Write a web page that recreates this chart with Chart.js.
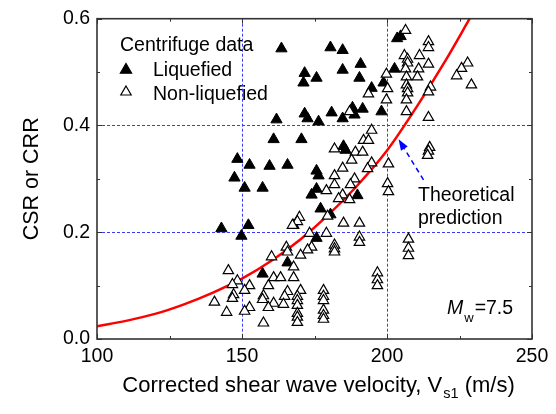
<!DOCTYPE html>
<html>
<head>
<meta charset="utf-8">
<script src="https://cdn.jsdelivr.net/npm/chart.js@4.4.1/dist/chart.umd.min.js"></script>
<style>
  html, body { margin: 0; padding: 0; background: #fff; }
  #wrap { width: 556px; height: 414px; }
</style>
</head>
<body>
<div id="wrap"><canvas id="vsChart" width="556" height="414"></canvas></div>
<script>
// Centrifuge data - liquefied (filled triangles)
const liqVs = [163.6, 180.5, 184.7, 190.9, 184.7, 171.6, 175.7, 171.2, 190.5, 194.7, 202.6, 198.8, 204.7, 203.5,
    171.6, 172.6, 161.9, 176.4, 180.9, 184.7, 188.1, 188.8, 191.6, 198.1, 160.9, 170.5, 185.0, 185.7,
    148.4, 152.6, 159.5, 165.7, 175.7, 176.4, 147.4, 150.9, 157.1, 174.0, 175.7, 189.8, 177.1, 180.5,
    142.9, 152.2, 149.8, 167.8, 175.7, 165.7, 157.1];
const liqCsr = [0.544, 0.546, 0.541, 0.515, 0.504, 0.498, 0.489, 0.480, 0.489, 0.470, 0.506, 0.480, 0.567, 0.563,
    0.422, 0.413, 0.411, 0.407, 0.424, 0.413, 0.433, 0.420, 0.431, 0.426, 0.374, 0.374, 0.361, 0.354,
    0.337, 0.326, 0.324, 0.326, 0.315, 0.306, 0.302, 0.283, 0.283, 0.270, 0.281, 0.269, 0.244, 0.233,
    0.207, 0.213, 0.193, 0.213, 0.189, 0.143, 0.122];

// Centrifuge data - non-liquefied (open triangles)
const nonVs = [206.4, 214.3, 214.3, 206.0, 207.1, 207.1, 211.2, 206.4, 210.9, 214.3, 210.5, 206.7, 206.7, 207.1,
    207.1, 206.7, 215.0, 214.3, 206.7, 214.3, 227.8, 225.7, 224.0, 229.1, 214.7, 214.3, 214.0, 199.8,
    200.2, 199.8, 193.6, 187.1, 194.7, 191.9, 193.6, 181.9, 189.1, 191.6, 187.8, 194.7, 184.7, 193.3,
    200.5, 181.9, 188.8, 187.4, 181.9, 179.1, 184.7, 183.3, 187.1, 200.2, 200.5, 169.8, 169.1, 167.4,
    179.5, 185.0, 190.5, 173.3, 179.1, 190.5, 190.5, 174.0, 172.6, 181.9, 181.9, 181.9, 165.3, 165.7,
    160.2, 170.2, 167.8, 160.9, 163.3, 167.8, 152.6, 159.1, 150.9, 165.7, 170.2, 157.4, 157.1, 164.7,
    169.1, 169.1, 169.1, 178.1, 178.1, 178.1, 160.9, 164.3, 159.1, 152.6, 150.9, 169.1, 169.1, 169.1,
    178.1, 178.1, 178.1, 157.4, 196.7, 196.7, 196.7, 145.3, 148.4, 146.7, 147.1, 146.7, 140.5, 144.7,
    207.4, 207.4, 207.4];
const nonCsr = [0.578, 0.557, 0.546, 0.531, 0.524, 0.517, 0.531, 0.506, 0.506, 0.515, 0.491, 0.491, 0.476, 0.469,
    0.461, 0.448, 0.472, 0.463, 0.426, 0.415, 0.517, 0.507, 0.493, 0.476, 0.359, 0.352, 0.344, 0.496,
    0.469, 0.448, 0.459, 0.426, 0.391, 0.372, 0.372, 0.356, 0.350, 0.350, 0.335, 0.330, 0.320, 0.319,
    0.328, 0.306, 0.300, 0.289, 0.289, 0.278, 0.270, 0.263, 0.261, 0.291, 0.276, 0.228, 0.220, 0.213,
    0.230, 0.217, 0.217, 0.198, 0.198, 0.191, 0.181, 0.172, 0.167, 0.176, 0.169, 0.163, 0.172, 0.163,
    0.154, 0.157, 0.135, 0.115, 0.115, 0.115, 0.100, 0.100, 0.091, 0.089, 0.091, 0.081, 0.074, 0.080,
    0.080, 0.072, 0.063, 0.091, 0.080, 0.072, 0.067, 0.065, 0.059, 0.059, 0.052, 0.048, 0.041, 0.031,
    0.054, 0.044, 0.037, 0.030, 0.124, 0.111, 0.100, 0.128, 0.109, 0.102, 0.083, 0.076, 0.069, 0.050,
    0.187, 0.170, 0.156];

// Theoretical prediction (red curve)
const curveVs = [100, 110, 120, 130, 140, 150, 160, 170, 180, 190, 200, 210, 220, 228.5];
const curveCrr = [0.024, 0.034, 0.047, 0.065, 0.087, 0.113, 0.146, 0.186, 0.234, 0.289, 0.353, 0.433, 0.52, 0.6];

// axes
const xTicks = [100, 150, 200, 250];
const yTicks = [0.0, 0.2, 0.4, 0.6];
const guideVs = [150, 200];
const guideCsr = [0.2, 0.4];

const FONT = 'Arial, "Liberation Sans", sans-serif';

function toPoints(xs, ys) {
    return xs.map((v, i) => ({ x: v, y: ys[i] }));
}

function tri(ctx, cx, cy, r, filled) {
    ctx.beginPath();
    ctx.moveTo(cx, cy - r);
    ctx.lineTo(cx + r * Math.sin(2 * Math.PI / 3), cy + r / 2);
    ctx.lineTo(cx - r * Math.sin(2 * Math.PI / 3), cy + r / 2);
    ctx.closePath();
    ctx.fillStyle = filled ? '#000' : '#fff';
    ctx.fill();
    ctx.strokeStyle = '#000';
    ctx.lineWidth = 1.2;
    ctx.stroke();
}

const framePlugin = {
    id: 'frame',
    beforeDatasetsDraw(chart) {
        const { ctx, chartArea: a, scales: { x, y } } = chart;
        ctx.save();
        ctx.strokeStyle = '#3a3aff';
        ctx.lineWidth = 1;
        ctx.setLineDash([3, 2]);
        guideVs.forEach(v => {
            const px = Math.round(x.getPixelForValue(v)) + 0.5;
            ctx.beginPath(); ctx.moveTo(px, a.top); ctx.lineTo(px, a.bottom); ctx.stroke();
        });
        guideCsr.forEach(v => {
            const py = Math.round(y.getPixelForValue(v)) + 0.5;
            ctx.beginPath(); ctx.moveTo(a.left, py); ctx.lineTo(a.right, py); ctx.stroke();
        });
        ctx.restore();
    },
    afterDatasetsDraw(chart) {
        const { ctx, chartArea: a, scales: { x, y } } = chart;
        ctx.save();

        // frame + inward ticks
        ctx.strokeStyle = '#333';
        ctx.lineWidth = 1.6;
        ctx.strokeRect(a.left, a.top, a.right - a.left, a.bottom - a.top);
        ctx.lineWidth = 1;
        for (let v = 100; v <= 250; v += 25) {
            const px = Math.round(x.getPixelForValue(v)) + 0.5;
            const len = v % 50 === 0 ? 5 : 3;
            ctx.beginPath();
            ctx.moveTo(px, a.bottom); ctx.lineTo(px, a.bottom - len);
            ctx.moveTo(px, a.top); ctx.lineTo(px, a.top + len);
            ctx.stroke();
        }
        for (let i = 0; i <= 6; i++) {
            const py = Math.round(y.getPixelForValue(i / 10)) + 0.5;
            const len = i % 2 === 0 ? 5 : 3;
            ctx.beginPath();
            ctx.moveTo(a.left, py); ctx.lineTo(a.left + len, py);
            ctx.moveTo(a.right, py); ctx.lineTo(a.right - len, py);
            ctx.stroke();
        }

        // legend
        ctx.fillStyle = '#000';
        ctx.font = '19.5px ' + FONT;
        ctx.textBaseline = 'alphabetic';
        ctx.textAlign = 'left';
        ctx.fillText('Centrifuge data', 120, 51);
        tri(ctx, 126, 70, 6.5, true);
        ctx.fillStyle = '#000';
        ctx.fillText('Liquefied', 153, 76);
        tri(ctx, 126, 92, 6, false);
        ctx.fillStyle = '#000';
        ctx.fillText('Non-liquefied', 153, 100);

        // theoretical prediction label + arrow
        ctx.fillText('Theoretical', 418, 201);
        ctx.fillText('prediction', 418, 224);
        const x0 = x.getPixelForValue(212.6), y0 = y.getPixelForValue(0.298);
        const x1 = x.getPixelForValue(204.0), y1 = y.getPixelForValue(0.374);
        const ang = Math.atan2(y1 - y0, x1 - x0);
        ctx.strokeStyle = '#0000ff';
        ctx.lineWidth = 1.5;
        ctx.setLineDash([5, 4]);
        ctx.beginPath();
        ctx.moveTo(x0, y0);
        ctx.lineTo(x1 - 8 * Math.cos(ang), y1 - 8 * Math.sin(ang));
        ctx.stroke();
        ctx.setLineDash([]);
        ctx.fillStyle = '#0000ff';
        ctx.beginPath();
        ctx.moveTo(x1, y1);
        ctx.lineTo(x1 - 11 * Math.cos(ang) + 4 * Math.sin(ang), y1 - 11 * Math.sin(ang) - 4 * Math.cos(ang));
        ctx.lineTo(x1 - 11 * Math.cos(ang) - 4 * Math.sin(ang), y1 - 11 * Math.sin(ang) + 4 * Math.cos(ang));
        ctx.closePath();
        ctx.fill();

        // M_w = 7.5
        ctx.fillStyle = '#000';
        ctx.font = 'italic 19.5px ' + FONT;
        ctx.fillText('M', 447, 314);
        let mx = 447 + ctx.measureText('M').width;
        ctx.font = '13px ' + FONT;
        ctx.fillText('w', mx + 1, 322);
        mx += 1 + ctx.measureText('w').width;
        ctx.font = '19.5px ' + FONT;
        ctx.fillText('=7.5', mx + 1, 314);

        // axis titles
        ctx.font = '22px ' + FONT;
        const t1 = 'Corrected shear wave velocity, V';
        const t3 = ' (m/s)';
        const w1 = ctx.measureText(t1).width;
        const w3 = ctx.measureText(t3).width;
        ctx.font = '14.5px ' + FONT;
        const w2 = ctx.measureText('s1').width;
        let tx = 318 - (w1 + w2 + w3) / 2;
        ctx.font = '22px ' + FONT;
        ctx.fillText(t1, tx, 392);
        ctx.font = '14.5px ' + FONT;
        ctx.fillText('s1', tx + w1 + 1, 398);
        ctx.font = '22px ' + FONT;
        ctx.fillText(t3, tx + w1 + w2 + 1, 392);

        ctx.font = '21.5px ' + FONT;
        ctx.translate(38, (a.top + a.bottom) / 2);
        ctx.rotate(-Math.PI / 2);
        ctx.textAlign = 'center';
        ctx.fillText('CSR or CRR', 0, 0);

        ctx.restore();
    }
};

new Chart(document.getElementById('vsChart'), {
    type: 'scatter',
    data: {
        datasets: [
            {
                label: 'Non-liquefied',
                data: toPoints(nonVs, nonCsr),
                pointStyle: 'triangle',
                pointRadius: 6,
                backgroundColor: '#fff',
                borderColor: '#000',
                borderWidth: 1.2
            },
            {
                label: 'Liquefied',
                data: toPoints(liqVs, liqCsr),
                pointStyle: 'triangle',
                pointRadius: 6.5,
                backgroundColor: '#000',
                borderColor: '#000',
                borderWidth: 1
            },
            {
                label: 'Theoretical prediction',
                data: toPoints(curveVs, curveCrr),
                showLine: true,
                cubicInterpolationMode: 'monotone',
                borderColor: '#ff0000',
                borderWidth: 2.5,
                pointRadius: 0
            }
        ]
    },
    options: {
        responsive: false,
        animation: false,
        devicePixelRatio: 1,
        layout: { padding: { top: 15, right: 24, left: 0, bottom: 0 } },
        scales: {
            x: {
                type: 'linear',
                min: 100,
                max: 250,
                afterFit(scale) { scale.height = 75; },
                afterBuildTicks(scale) { scale.ticks = xTicks.map(v => ({ value: v })); },
                grid: { display: false, drawTicks: false },
                border: { display: false },
                ticks: { color: '#000', font: { size: 19.5, family: FONT }, padding: 6 }
            },
            y: {
                type: 'linear',
                min: 0,
                max: 0.6,
                afterFit(scale) { scale.width = 97; },
                afterBuildTicks(scale) { scale.ticks = yTicks.map(v => ({ value: v })); },
                grid: { display: false, drawTicks: false },
                border: { display: false },
                ticks: {
                    color: '#000',
                    font: { size: 19.5, family: FONT },
                    padding: 7,
                    callback: v => v.toFixed(1)
                }
            }
        },
        plugins: {
            legend: { display: false },
            tooltip: { enabled: false }
        }
    },
    plugins: [framePlugin]
});
</script>
</body>
</html>
